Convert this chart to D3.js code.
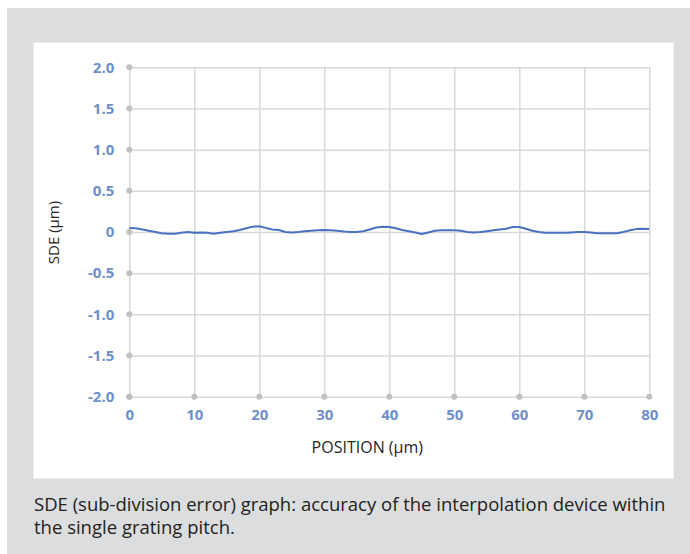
<!DOCTYPE html>
<html>
<head>
<meta charset="utf-8">
<script src="https://cdn.jsdelivr.net/npm/d3@7"></script>
<style>
  body { margin: 0; background: #fff; }
  text { font-family: 'Open Sans', sans-serif; }
</style>
</head>
<body>
<div id="chart"></div>
<script>
// position along the grating pitch (µm)
var positions = [
	0, 1, 2, 3, 4, 5, 6, 7, 8, 9, 10, 11, 12, 13, 14, 15, 16, 17, 18, 19,
	20, 21, 22, 23, 24, 25, 26, 27, 28, 29, 30, 31, 32, 33, 34, 35, 36, 37, 38, 39,
	40, 41, 42, 43, 44, 45, 46, 47, 48, 49, 50, 51, 52, 53, 54, 55, 56, 57, 58, 59,
	60, 61, 62, 63, 64, 65, 66, 67, 68, 69, 70, 71, 72, 73, 74, 75, 76, 77, 78, 79, 80
];
// sub-division error (µm)
var sde = [
	0.05, 0.045, 0.03, 0.015, 0.0, -0.015, -0.02, -0.02, -0.01, 0.0,
	-0.01, -0.005, -0.01, -0.02, -0.01, 0.0, 0.01, 0.025, 0.045, 0.065,
	0.07, 0.05, 0.03, 0.025, 0.0, -0.005, 0.0, 0.01, 0.015, 0.02,
	0.025, 0.02, 0.015, 0.005, 0.0, 0.0, 0.01, 0.03, 0.055, 0.065,
	0.06, 0.045, 0.025, 0.01, -0.005, -0.025, -0.005, 0.015, 0.02, 0.02,
	0.02, 0.015, 0.0, -0.005, 0.0, 0.01, 0.02, 0.03, 0.04, 0.06,
	0.06, 0.04, 0.015, 0.0, -0.01, -0.01, -0.01, -0.01, -0.005, 0.0,
	0.0, -0.005, -0.015, -0.015, -0.015, -0.015, 0.0, 0.02, 0.035, 0.04, 0.035
];
var xTicks = [0, 10, 20, 30, 40, 50, 60, 70, 80];
var yTicks = [2, 1.5, 1, 0.5, 0, -0.5, -1, -1.5, -2];
var yTickLabels = ['2.0', '1.5', '1.0', '0.5', '0', '-0.5', '-1.0', '-1.5', '-2.0'];

var W = 690, H = 554;
var plot = { left: 129.3, right: 649.3, top: 67.3, bottom: 396.7 };
var gridColor = '#d9d9d9';
var tickColor = '#6f8fcb';

var svg = d3.select('#chart').append('svg').attr('width', W).attr('height', H);

// grey card and white chart panel
svg.append('rect').attr('x', 7).attr('y', 8).attr('width', W - 7).attr('height', H - 8).attr('fill', '#dcdddf');
svg.append('rect').attr('x', 33.5).attr('y', 42.5).attr('width', 640).attr('height', 436)
	.attr('fill', '#ffffff').attr('stroke', '#eeeeee');

var x = d3.scaleLinear().domain([0, 80]).range([plot.left, plot.right]);
var y = d3.scaleLinear().domain([-2, 2]).range([plot.bottom, plot.top]);

// Y axis + horizontal grid
var yAxis = svg.append('g')
	.attr('transform', 'translate(' + plot.left + ',0)')
	.call(d3.axisLeft(y).tickValues(yTicks)
		.tickFormat(function (d, i) { return yTickLabels[i]; })
		.tickSize(-(plot.right - plot.left)).tickPadding(15));
yAxis.select('.domain').remove();
yAxis.selectAll('line').attr('stroke', gridColor).attr('stroke-width', 1.5);
yAxis.selectAll('text')
	.attr('fill', tickColor).attr('font-size', '15px').attr('font-weight', 'bold')
	.style('font-family', "'Open Sans', sans-serif");

// X axis + vertical grid
var xAxis = svg.append('g')
	.attr('transform', 'translate(0,' + plot.bottom + ')')
	.call(d3.axisBottom(x).tickValues(xTicks)
		.tickSize(-(plot.bottom - plot.top)).tickPadding(12.7));
xAxis.select('.domain').remove();
xAxis.selectAll('line').attr('stroke', gridColor).attr('stroke-width', 1.5);
xAxis.selectAll('text')
	.attr('fill', tickColor).attr('font-size', '15px').attr('font-weight', 'bold')
	.style('font-family', "'Open Sans', sans-serif");

// tick dots on both axes
svg.append('g').selectAll('circle')
	.data(yTicks).enter().append('circle')
	.attr('cx', plot.left).attr('cy', function (d) { return y(d); })
	.attr('r', 3).attr('fill', '#c0c0c0');
svg.append('g').selectAll('circle')
	.data(xTicks).enter().append('circle')
	.attr('cx', function (d) { return x(d); }).attr('cy', plot.bottom)
	.attr('r', 3).attr('fill', '#c0c0c0');

// SDE line
var line = d3.line()
	.x(function (d, i) { return x(positions[i]); })
	.y(function (d) { return y(d); });
svg.append('path')
	.datum(sde)
	.attr('d', line)
	.attr('fill', 'none')
	.attr('stroke', '#4a72c0')
	.attr('stroke-width', 2)
	.attr('stroke-linejoin', 'round');

// axis titles
svg.append('text')
	.attr('x', (plot.left + plot.right) / 2 - 22).attr('y', 452.5)
	.attr('text-anchor', 'middle').attr('font-size', '16px').attr('fill', '#262626')
	.text('POSITION (µm)');
svg.append('text')
	.attr('transform', 'translate(58.5,' + 232.5 + ')rotate(-90)')
	.attr('text-anchor', 'middle').attr('font-size', '15px').attr('fill', '#262626')
	.text('SDE (µm)');

// caption under the chart
var caption = svg.append('text').attr('font-size', '18.5px').attr('fill', '#222');
caption.append('tspan').attr('x', 34).attr('y', 511)
	.text('SDE (sub-division error) graph: accuracy of the interpolation device within');
caption.append('tspan').attr('x', 34).attr('y', 534)
	.text('the single grating pitch.');
</script>
</body>
</html>
